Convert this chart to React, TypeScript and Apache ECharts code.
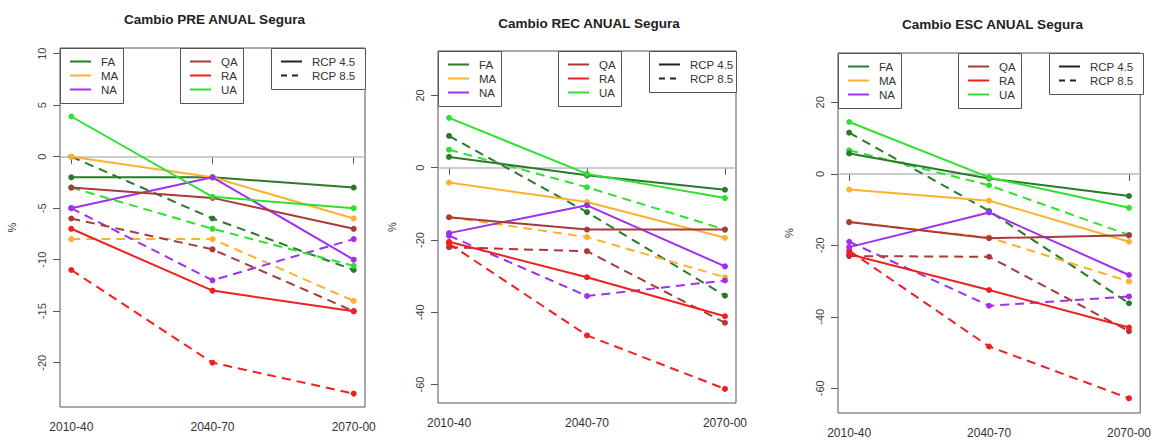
import React, { useEffect, useRef } from "react";
import * as echarts from "echarts";

// ---- data ----
const periods = ["2010-40", "2040-70", "2070-00"];
const indicators = ["FA", "MA", "NA", "QA", "RA", "UA"];
const colors = ["#2a7a2a", "#ffb030", "#a030f0", "#a83a3a", "#f02020", "#30e030"];
const titles = ["Cambio PRE ANUAL Segura", "Cambio REC ANUAL Segura", "Cambio ESC ANUAL Segura"];
const scenarios = ["RCP 4.5", "RCP 8.5"];

// rows follow indicators order: FA, MA, NA, QA, RA, UA
const preRcp45 = [
  [-2, -2, -3],
  [0, -2, -6],
  [-5, -2, -10],
  [-3, -4, -7],
  [-7, -13, -15],
  [3.9, -3.9, -5],
];
const preRcp85 = [
  [0, -6, -11],
  [-8, -8, -14],
  [-5, -12, -8],
  [-6, -9, -15],
  [-11, -20, -23],
  [-3, -7, -10.6],
];
const recRcp45 = [
  [3, -2.1, -6.1],
  [-4.1, -9.5, -19.4],
  [-18.1, -10.4, -27.3],
  [-13.7, -17.1, -17.1],
  [-20.5, -30.3, -41.1],
  [13.8, -1.7, -8.4],
];
const recRcp85 = [
  [8.8, -12.3, -35.4],
  [-13.7, -19.2, -30.3],
  [-18.8, -35.5, -31.2],
  [-22, -23.1, -42.9],
  [-21, -46.4, -61.2],
  [5, -5.4, -17.1],
];
const escRcp45 = [
  [5.7, -1.3, -6.2],
  [-4.4, -7.5, -19],
  [-20.5, -10.8, -28.3],
  [-13.5, -18, -17.2],
  [-22.5, -32.5, -43],
  [14.5, -1, -9.5],
];
const escRcp85 = [
  [11.5, -10.4, -36.2],
  [-13.5, -17.8, -30.1],
  [-19, -36.9, -34.3],
  [-23, -23.2, -44],
  [-21.5, -48.3, -62.8],
  [6.6, -3.2, -17.1],
];
const yTicksPre = [-20, -15, -10, -5, 0, 5, 10];
const yTicksRecEsc = [-60, -40, -20, 0, 20];

const panelData = [
  [preRcp45, preRcp85],
  [recRcp45, recRcp85],
  [escRcp45, escRcp85],
];
const panelTicks = [yTicksPre, yTicksRecEsc, yTicksRecEsc];

// ---- layout ----
const grids = [
  { left: 60, top: 48, width: 305, height: 359, ymin: -24.3, ymax: 10.55, titleY: 19, nameGap: 43 },
  { left: 438, top: 51, width: 298, height: 352, ymin: -65.1, ymax: 32.3, titleY: 23, nameGap: 41 },
  { left: 838, top: 53, width: 305, height: 360, ymin: -66.9, ymax: 33.8, titleY: 24, nameGap: 44 },
];

const FONT = "'Liberation Sans', Arial, sans-serif";
const DASH = [9, 6];

function legendGraphics(g: any) {
  const els: any[] = [];
  const boxStroke = { stroke: "#555", lineWidth: 1, fill: "#fff" };
  const rows = [13.5, 27.5, 41.5];
  const boxA = { x: g.left, w: 63, h: 55 };
  const boxB = { x: g.left + 120, w: 63, h: 55 };
  const boxC = { x: g.left + 211, w: g.width - 211, h: 41 };
  [boxA, boxB, boxC].forEach((b) => {
    els.push({ type: "rect", shape: { x: b.x + 0.5, y: g.top + 0.5, width: b.w, height: b.h }, style: boxStroke, z: 10 });
  });
  const addItem = (bx: number, row: number, label: string, color: string, dashed: boolean) => {
    const y = g.top + row;
    els.push({
      type: "line",
      shape: { x1: bx + 10, y1: y, x2: bx + 31, y2: y },
      style: { stroke: color, lineWidth: 2, lineDash: dashed ? [6, 5] : null },
      z: 11,
    });
    els.push({
      type: "text",
      x: bx + 41,
      y: y,
      style: { text: label, fill: "#333", font: `11.5px ${FONT}`, textVerticalAlign: "middle" },
      z: 11,
    });
  };
  for (let i = 0; i < 3; i++) addItem(boxA.x, rows[i], indicators[i], colors[i], false);
  for (let i = 3; i < 6; i++) addItem(boxB.x, rows[i - 3], indicators[i], colors[i], false);
  addItem(boxC.x, rows[0], scenarios[0], "#222", false);
  addItem(boxC.x, rows[1], scenarios[1], "#222", true);
  return els;
}

function buildOption() {
  const series: any[] = [];
  const graphic: any[] = [];
  grids.forEach((g, p) => {
    graphic.push({
      type: "text",
      x: g.left + g.width / 2 + 2,
      y: g.titleY,
      style: {
        text: titles[p],
        fill: "#222",
        font: `bold 13.5px ${FONT}`,
        textAlign: "center",
        textVerticalAlign: "middle",
      },
    });
    graphic.push(...legendGraphics(g));
    const [d45, d85] = panelData[p];
    [d85, d45].forEach((set, si) => {
      const dashed = set === d85;
      set.forEach((vals, k) => {
        series.push({
          type: "line",
          name: `${indicators[k]} ${dashed ? scenarios[1] : scenarios[0]}`,
          xAxisIndex: p,
          yAxisIndex: p,
          data: vals.map((v, i) => [i + 1, v]),
          symbol: "circle",
          symbolSize: 6,
          itemStyle: { color: colors[k] },
          lineStyle: { color: colors[k], width: 2, type: dashed ? DASH : "solid" },
          z: dashed ? 2 : 3,
          markLine:
            si === 0 && k === 0
              ? {
                  silent: true,
                  symbol: "none",
                  label: { show: false },
                  lineStyle: { color: "#bbb", width: 1.5, type: "solid" },
                  data: [{ yAxis: 0 }],
                  z: 1,
                }
              : undefined,
        });
      });
    });
  });

  return {
    animation: false,
    backgroundColor: "#fff",
    grid: grids.map((g) => ({
      left: g.left,
      top: g.top,
      width: g.width,
      height: g.height,
      show: true,
      borderColor: "#555",
      borderWidth: 1,
      backgroundColor: "transparent",
    })),
    xAxis: grids.map((g, p) => ({
      type: "value",
      gridIndex: p,
      min: 0.92,
      max: 3.08,
      axisLine: { show: false },
      splitLine: { show: false },
      axisTick: { show: true, length: 7, customValues: [1, 2, 3], lineStyle: { color: "#555" } },
      axisLabel: {
        show: true,
        customValues: [1, 2, 3],
        formatter: (v: number) => periods[Math.round(v) - 1] ?? "",
        margin: 14,
        color: "#333",
        fontSize: 12,
        fontFamily: FONT,
      },
    })),
    yAxis: grids.map((g, p) => ({
      type: "value",
      gridIndex: p,
      min: g.ymin,
      max: g.ymax,
      name: "%",
      nameLocation: "middle",
      nameRotate: 90,
      nameGap: g.nameGap,
      nameTextStyle: { color: "#333", fontSize: 11, fontFamily: FONT },
      axisLine: { show: false },
      splitLine: { show: false },
      axisTick: { show: true, length: 7, customValues: panelTicks[p], lineStyle: { color: "#555" } },
      axisLabel: {
        show: true,
        customValues: panelTicks[p],
        rotate: 90,
        margin: 13,
        color: "#444",
        fontSize: 11,
        fontFamily: FONT,
      },
    })),
    graphic,
    series,
  };
}

export default function App() {
  const ref = useRef<HTMLDivElement>(null);
  useEffect(() => {
    if (!ref.current) return;
    const chart = echarts.init(ref.current, null, { renderer: "svg" });
    chart.setOption(buildOption() as any);
    return () => chart.dispose();
  }, []);
  return (
    <div
      ref={ref}
      style={{ position: "fixed", left: 0, top: 0, width: 1154, height: 442, background: "#fff" }}
    />
  );
}
